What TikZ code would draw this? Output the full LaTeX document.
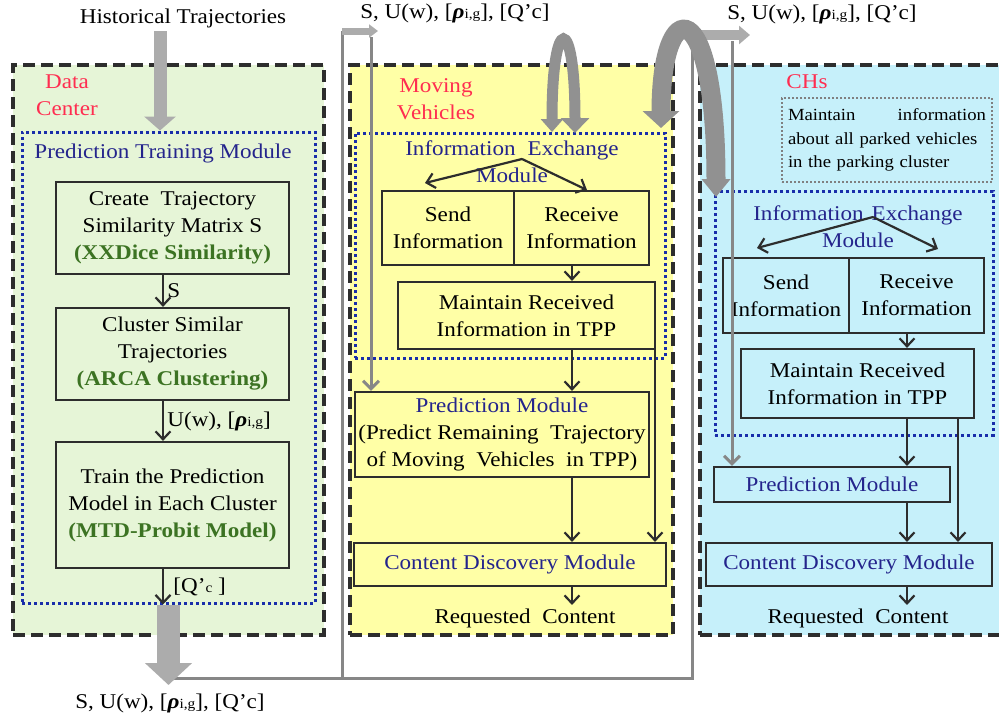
\documentclass[tikz,border=0pt]{standalone}
\usepackage{fontspec}
\setmainfont[FakeStretch=1.1]{Liberation Serif}
\usepackage{tikz}
\usetikzlibrary{arrows.meta}

\definecolor{dcgreen}{RGB}{230,245,215}
\definecolor{mvyellow}{RGB}{255,255,166}
\definecolor{chcyan}{RGB}{198,240,250}
\definecolor{boxline}{RGB}{45,45,45}
\definecolor{dotblue}{RGB}{25,45,170}
\definecolor{modblue}{RGB}{36,36,140}
\definecolor{zonered}{RGB}{255,45,80}
\definecolor{simgreen}{RGB}{60,115,35}
\definecolor{fbgray}{RGB}{135,135,135}
\definecolor{fatgray}{RGB}{172,172,172}
\definecolor{turngray}{RGB}{145,145,145}

\tikzset{zone/.style = {draw=boxline, line width=3.5pt, dash pattern=on 12pt off 6pt}}
\tikzset{module/.style = {draw=dotblue, line width=3pt, dash pattern=on 3pt off 3pt}}
\tikzset{note/.style = {draw=gray, line width=1.8pt, dash pattern=on 2pt off 2pt}}
\tikzset{blk/.style = {draw=boxline, line width=2.2pt, align=center, inner sep=0}}
\tikzset{flow/.style = {draw=boxline, line width=2.2pt,
                        -{Straight Barb[length=8pt, width=15pt]}}}
\tikzset{fb/.style = {draw=fbgray, line width=3pt}}
\tikzset{fat/.style = {draw=fatgray, line width=#1}}
\tikzset{turn/.style = {draw=turngray, line width=#1}}

\newcommand{\smalltxt}{\fontsize{14}{14}\selectfont}
\newcommand{\rhoig}{{\bfseries\itshape ρ}{\smalltxt i,g}}
\newcommand{\params}{S, U(w), [\rhoig], [Q’c]}

\begin{document}
\begin{tikzpicture}[x=1pt, y=-1pt, font=\fontsize{21}{27}\selectfont]
  \useasboundingbox (0, 0) rectangle (999, 721);

  % the three parts
  \node [zone, fill=dcgreen, minimum width=311pt, minimum height=570pt] (dc) at (168.5, 350) {};
  \node [zone, fill=mvyellow, minimum width=323pt, minimum height=570pt] (mv) at (511.5, 350) {};
  \node [zone, fill=chcyan, minimum width=305pt, minimum height=570pt] (ch) at (852.5, 350) {};

  \node [text=zonered, align=center] (dcname) at (67, 95.5) {Data\\Center};
  \node [text=zonered, align=center] (mvname) at (436, 99.5) {Moving\\Vehicles};
  \node [text=zonered] (chname) at (807, 82) {CHs};

  % data center
  \node [module, minimum width=293pt, minimum height=471pt] (ptm) at (168.5, 367.5) {};
  \node [text=modblue] (ptmname) at (163, 153) {Prediction Training Module};
  \node [blk, minimum width=233pt, minimum height=92pt] (sim) at (172.5, 228)
        {Create~~Trajectory\\Similarity Matrix S\\\textcolor{simgreen}{\bfseries (XXDice Similarity)}};
  \node [blk, minimum width=233pt, minimum height=92pt] (clu) at (172.5, 354)
        {Cluster Similar\\Trajectories\\\textcolor{simgreen}{\bfseries (ARCA Clustering)}};
  \node [blk, minimum width=233pt, minimum height=126pt] (trn) at (172.5, 505)
        {Train the Prediction\\Model in Each Cluster\\\textcolor{simgreen}{\bfseries (MTD-Probit Model)}};

  \coordinate (dcx) at (163, 0);
  \draw [flow] (sim.south -| dcx) -- (clu.north -| dcx) node [midway, right] {S};
  \draw [flow] (clu.south -| dcx) -- (trn.north -| dcx) node [midway, right] {U(w), [\rhoig]};
  \draw [flow] (trn.south -| dcx) -- (ptm.south -| dcx) node [midway, right, xshift=6pt] {[Q’{\smalltxt c} ]};

  % moving vehicles
  \node [module, minimum width=310pt, minimum height=225pt] (mvie) at (510, 245.5) {};
  \node [text=modblue, align=center] (mviename) at (512, 161.5) {Information\hspace{12pt}Exchange\\Module};
  \node [blk, minimum width=132pt, minimum height=74pt] (mvsend) at (448, 228) {Send\\Information};
  \node [blk, minimum width=135pt, minimum height=74pt] (mvrecv) at (581.5, 228) {Receive\\Information};
  \node [blk, minimum width=257pt, minimum height=67pt] (mvkeep) at (526.5, 315.5) {Maintain Received\\Information in TPP};
  \node [blk, minimum width=294pt, minimum height=85pt] (mvpred) at (502, 434.5)
        {\textcolor{modblue}{Prediction Module}\\(Predict Remaining~~Trajectory\\of Moving~~Vehicles~~in TPP)};
  \node [blk, minimum width=312pt, minimum height=43pt, text=modblue] (mvcdm) at (510, 564.5) {Content Discovery Module};
  \node (mvout) at (525, 618) {Requested~~Content};

  \coordinate (mvx) at (572, 0);
  \coordinate (mvy) at (655, 0);
  \coordinate (mvtop) at (522, 159);
  \coordinate (mvtl) at (425, 183);
  \coordinate (mvtr) at (587, 190);
  \draw [flow] (mvtop) -- (mvtl);
  \draw [flow] (mvtop) -- (mvtr);
  \draw [flow] (mvrecv.south -| mvx) -- (mvkeep.north -| mvx);
  \draw [flow] (mvkeep.south -| mvx) -- (mvpred.north -| mvx);
  \draw [flow] (mvkeep.south -| mvy) -- (mvcdm.north -| mvy);
  \draw [flow] (mvpred.south -| mvx) -- (mvcdm.north -| mvx);
  \draw [flow] (mvcdm.south -| mvx) -- (mvout.north -| mvx);

  % CHs
  \node [note, text width=198pt, align=left, minimum width=210pt, minimum height=84pt,
         font=\fontsize{17}{23.5}\selectfont] (chnote) at (887, 140)
        {Maintain\hfill information\\about all parked vehicles\\in the parking cluster};
  \node [module, minimum width=278pt, minimum height=244pt] (chie) at (854, 313) {};
  \node [text=modblue, align=center] (chiename) at (858, 226.5) {Information\hspace{8pt}Exchange\\Module};
  \node [blk, minimum width=126pt, minimum height=75pt] (chsend) at (786, 295.5) {Send\\Information};
  \node [blk, minimum width=135pt, minimum height=75pt] (chrecv) at (916.5, 295.5) {Receive\\Information};
  \node [blk, minimum width=233pt, minimum height=69pt] (chkeep) at (857.5, 383.5) {Maintain Received\\Information in TPP};
  \node [blk, minimum width=236pt, minimum height=35pt, text=modblue] (chpred) at (832, 484.5) {Prediction Module};
  \node [blk, minimum width=286pt, minimum height=43pt, text=modblue] (chcdm) at (849, 564.5) {Content Discovery Module};
  \node (chout) at (858, 618) {Requested~~Content};

  \coordinate (chx) at (907, 0);
  \coordinate (chy) at (958, 0);
  \coordinate (chtop) at (873, 217);
  \coordinate (chtl) at (757, 248);
  \coordinate (chtr) at (938, 249);
  \draw [flow] (chtop) -- (chtl);
  \draw [flow] (chtop) -- (chtr);
  \draw [flow] (chrecv.south -| chx) -- (chkeep.north -| chx);
  \draw [flow] (chkeep.south -| chx) -- (chpred.north -| chx);
  \draw [flow] (chkeep.south -| chy) -- (chcdm.north -| chy);
  \draw [flow] (chpred.south -| chx) -- (chcdm.north -| chx);
  \draw [flow] (chcdm.south -| chx) -- (chout.north -| chx);

  % input and output of the data center
  \node (hist) at (183, 18) {Historical Trajectories};
  \node (outlbl) at (170, 703) {\params};
  \node (mvlbl) at (455, 13) {\params};
  \node (chlbl) at (822, 14) {\params};

  \coordinate (hx) at (160, 0);
  \coordinate (out) at (168.5, 685);
  \coordinate (bend1) at (342, 678);
  \coordinate (bend2) at (692, 678);
  \coordinate (top1) at (342, 31);
  \coordinate (top2) at (692, 35);
  \coordinate (down1) at (371, 37);
  \coordinate (down2) at (732, 41);

  \draw [fat=13pt, -{Triangle[width=31pt, length=14pt]}] (hist.south -| hx) -- (ptm.north -| hx);
  \draw [fb] (out |- bend1) -- (bend2) -- (top2);
  \draw [fb] (bend1) -- (top1);
  \draw [fat=7pt, -{Triangle[width=13pt, length=9pt]}] (top1) -- ++(36, 0);
  \draw [fat=10pt, -{Triangle[width=18pt, length=11pt]}] (top2) -- ++(58, 0);
  \draw [fb, -{Straight Barb[length=8pt, width=16pt]}] (down1) -- (down1 |- mvpred.north);
  \draw [fb, -{Straight Barb[length=8pt, width=16pt]}] (down2) -- (down2 |- chpred.north);
  \draw [fat=23pt, -{Triangle[width=46pt, length=22pt]}] (ptm.south) -- (out);

  % exchange between vehicles, and from vehicles to the CHs
  \coordinate (vv1) at (552, 132);
  \coordinate (vv2) at (575, 133);
  \draw [turn=11pt, {Triangle[width=22pt, length=13pt]}-{Triangle[width=28pt, length=15pt]}]
        (vv1) .. controls (552, 12) and (575, 12) .. (vv2);
  \coordinate (vc1) at (661, 128);
  \coordinate (vc2) at (716, 197);
  \draw [turn=19pt, {Triangle[width=36pt, length=17pt]}-{Triangle[width=28pt, length=18pt]}]
        (vc1) .. controls (661, -8) and (716, -8) .. (vc2);
\end{tikzpicture}
\end{document}
